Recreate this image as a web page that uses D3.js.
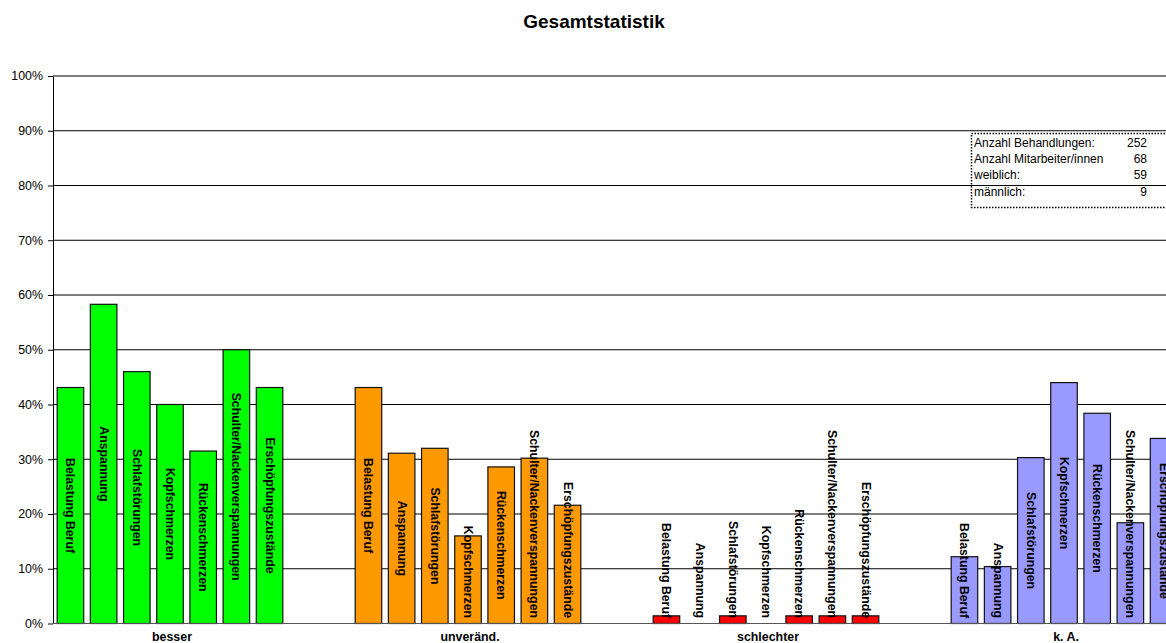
<!DOCTYPE html>
<html>
<head>
<meta charset="utf-8">
<script src="https://cdn.jsdelivr.net/npm/d3@7"></script>
<style>
  html, body { margin: 0; padding: 0; background: #fff; }
  svg { display: block; font-family: "Liberation Sans", Arial, sans-serif; }
</style>
</head>
<body>
<svg id="chart" width="1166" height="643"></svg>
<script>
// ---- data ----
const categories = ["besser", "unveränd.", "schlechter", "k. A."];
const symptoms = ["Belastung Beruf", "Anspannung", "Schlafstörungen", "Kopfschmerzen",
                  "Rückenschmerzen", "Schulter/Nackenverspannungen", "Erschöpfungszustände"];
const besser     = [0.431, 0.583, 0.460, 0.400, 0.315, 0.500, 0.431];
const unveraend  = [0.431, 0.311, 0.320, 0.160, 0.286, 0.302, 0.216];
const schlechter = [0.014, 0.000, 0.014, 0.000, 0.014, 0.014, 0.014];
const kA         = [0.122, 0.104, 0.303, 0.440, 0.384, 0.184, 0.338];
const seriesValues = [besser, unveraend, schlechter, kA];
const categoryColors = ["#00FF00", "#FF9900", "#FF0000", "#9999FF"];
const yTicks = [0, 0.1, 0.2, 0.3, 0.4, 0.5, 0.6, 0.7, 0.8, 0.9, 1.0];
const infoLabels = ["Anzahl Behandlungen:", "Anzahl Mitarbeiter/innen", "weiblich:", "männlich:"];
const infoValues = ["252", "68", "59", "9"];
const title = "Gesamtstatistik";

// ---- layout ----
const svg = d3.select("#chart");
const W = 1166;
const axisX = 53;
const y = d3.scaleLinear().domain([0, 1]).range([623.5, 76]);
const x0 = d3.scaleBand().domain(categories).range([21, 21 + 4 * 298]).padding(0);
const x1 = d3.scaleBand().domain(symptoms).range([0, x0.bandwidth()])
  .paddingInner(0.2).paddingOuter(1.09);

// title
svg.append("text").attr("x", 594).attr("y", 28).attr("text-anchor", "middle")
  .style("font-weight", "bold").style("font-size", "19px").text(title);

// gridlines
svg.append("g").selectAll("line").data(yTicks.slice(1)).join("line")
  .attr("x1", axisX).attr("x2", W + 10)
  .attr("y1", d => y(d)).attr("y2", d => y(d))
  .attr("stroke", "#000").attr("stroke-width", 1);

// info box
const box = svg.append("g");
box.append("rect").attr("x", 971.5).attr("y", 133.5).attr("width", 220).attr("height", 74)
  .attr("fill", "none").attr("stroke", "#000").attr("stroke-width", 1.5)
  .attr("stroke-dasharray", "1.5,1.5");
infoLabels.forEach((t, i) => {
  box.append("text").attr("x", 974).attr("y", 147 + i * 16.2)
    .style("font-size", "12px").text(t);
  box.append("text").attr("x", 1147).attr("y", 147 + i * 16.2)
    .attr("text-anchor", "end").style("font-size", "12px").text(infoValues[i]);
});

// bars
const groups = svg.append("g").selectAll("g").data(categories).join("g")
  .attr("transform", d => `translate(${x0(d)},0)`);

groups.each(function(cat, ci) {
  const g = d3.select(this);
  const vals = seriesValues[ci];
  g.selectAll("rect").data(symptoms).join("rect")
    .attr("x", s => x1(s))
    .attr("width", x1.bandwidth())
    .attr("y", (s, i) => y(vals[i]))
    .attr("height", (s, i) => y(0) - y(vals[i]))
    .attr("fill", categoryColors[ci])
    .attr("stroke", "#111").attr("stroke-width", 1.2);

  g.selectAll("text.lbl").data(symptoms).join("text")
    .attr("class", "lbl")
    .style("font-size", "12.3px").style("font-weight", "bold")
    .attr("text-anchor", "middle").attr("dominant-baseline", "central")
    .text(s => s)
    .each(function(s, i) {
      const len = this.getComputedTextLength();
      const mid = (y(vals[i]) + y(0)) / 2;
      const cy = Math.min(mid, 618 - len / 2);
      const cx = x1(s) + x1.bandwidth() / 2;
      d3.select(this).attr("transform", `translate(${cx},${cy}) rotate(90)`);
    });
});

// y axis
const yAxis = d3.axisLeft(y).tickValues(yTicks).tickFormat(d3.format(".0%"))
  .tickSize(5).tickSizeOuter(0).tickPadding(5);
const ga = svg.append("g").attr("transform", `translate(${axisX},0)`).call(yAxis);
ga.selectAll("text").style("font-size", "12.4px").style("font-family", "'Liberation Sans', Arial, sans-serif").attr("fill", "#000");
ga.selectAll("line").attr("stroke", "#000");
ga.select(".domain").attr("stroke", "#000");

// x axis baseline
svg.append("line").attr("x1", axisX).attr("x2", W + 10)
  .attr("y1", y(0)).attr("y2", y(0)).attr("stroke", "#555").attr("stroke-width", 1);

// category labels
svg.append("g").selectAll("text").data(categories).join("text")
  .attr("x", d => x0(d) + x0.bandwidth() / 2 + 2)
  .attr("y", 641)
  .attr("text-anchor", "middle")
  .style("font-size", "12.4px").style("font-weight", "bold")
  .text(d => d);
</script>
</body>
</html>
